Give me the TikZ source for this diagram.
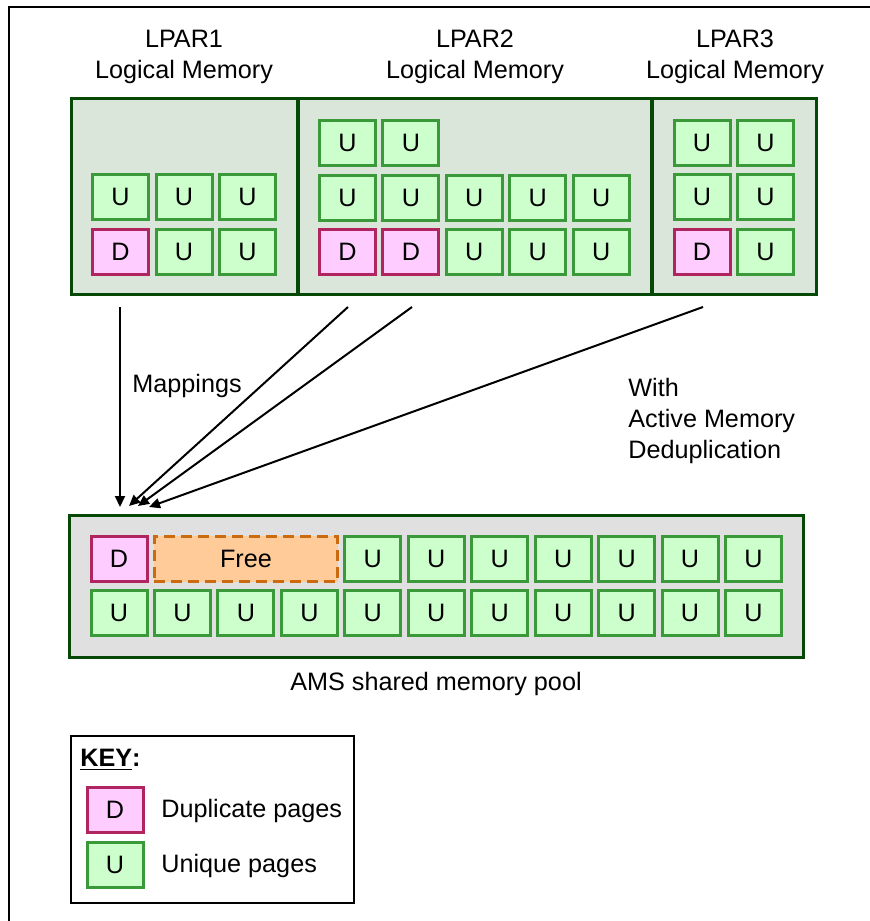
\documentclass[tikz,border=0pt]{standalone}
\usepackage{fontspec}
\setmainfont{Liberation Sans}
\usetikzlibrary{arrows.meta,positioning}
\definecolor{ufill}{HTML}{CCFFCC}
\definecolor{uline}{HTML}{3A9A3A}
\definecolor{dfill}{HTML}{FFCCFF}
\definecolor{dline}{HTML}{B02460}
\definecolor{lparfill}{HTML}{DAE6DA}
\definecolor{boxline}{HTML}{064806}
\definecolor{poolfill}{HTML}{E0E0E0}
\definecolor{freefill}{HTML}{FFCC99}
\definecolor{freeline}{HTML}{CC6A10}
\tikzset{
  txt/.style={font=\fontsize{12.6}{15.5}\selectfont, inner sep=0pt},
  pgU/.style={txt, draw=uline, fill=ufill, line width=1.5pt,
              minimum width=28pt, minimum height=22.5pt},
  pgD/.style={pgU, draw=dline, fill=dfill},
  lpar/.style={draw=boxline, fill=lparfill, line width=1.5pt, inner sep=0pt,
               minimum height=98pt},
  pool/.style={draw=boxline, fill=poolfill, line width=1.5pt, inner sep=0pt},
  arr/.style={-{Triangle[length=5.5pt,width=5pt]}, line width=1pt},
  lbl/.style={txt, align=left}
}

\begin{document}
\begin{tikzpicture}[x=0.5pt, y=-0.5pt]
  \useasboundingbox (0,0) rectangle (870,921);
  \draw[line width=1pt] (9,921) -- (9,7) -- (870,7);

  % logical memory of the three partitions
  \node[lpar, minimum width=113pt]   (lpar1) at (184,196.5) {};
  \node[lpar, minimum width=176.5pt] (lpar2) at (475,196.5) {};
  \node[lpar, minimum width=82pt]    (lpar3) at (734.5,196.5) {};
  \node[txt, align=center] (t1) at (184,57) {LPAR1\\Logical Memory};
  \node[txt, align=center] (t2) at (475,57) {LPAR2\\Logical Memory};
  \node[txt, align=center] (t3) at (735,57) {LPAR3\\Logical Memory};

  \foreach \i in {0,1,2}
    \node[pgU] (a\i) at ({120.5+63.5*\i},197) {U};
  \node[pgD] (b0) at (120.5,252) {D};
  \foreach \i in {1,2}
    \node[pgU] (b\i) at ({120.5+63.5*\i},252) {U};

  \foreach \i in {0,1}
    \node[pgU] (c\i) at ({347.5+63.4*\i},143) {U};
  \foreach \i in {0,...,4}
    \node[pgU] (d\i) at ({347.5+63.4*\i},197.5) {U};
  \foreach \i in {0,1}
    \node[pgD] (e\i) at ({347.5+63.4*\i},252) {D};
  \foreach \i in {2,3,4}
    \node[pgU] (e\i) at ({347.5+63.4*\i},252) {U};

  \foreach \i in {0,1} {
    \node[pgU] (f\i) at ({702+63.5*\i},143) {U};
    \node[pgU] (g\i) at ({702+63.5*\i},197) {U};
  }
  \node[pgD] (h0) at (702,252) {D};
  \node[pgU] (h1) at (765.5,252) {U};

  % shared pool
  \node[pool, minimum width=367pt, minimum height=71pt] (ams) at (436,586) {};
  \node[pgD] (p0) at (119,559) {D};
  \node[txt, draw=freeline, fill=freefill, line width=1.4pt,
        dash pattern=on 5.5pt off 3pt, minimum width=91.6pt,
        minimum height=22.6pt] (free) at (246,559) {Free};
  \foreach \i in {4,...,10}
    \node[pgU] (p\i) at ({119+63.45*\i},559) {U};
  \foreach \i in {0,...,10}
    \node[pgU] (q\i) at ({119+63.45*\i},613) {U};
  \node[txt] (amslbl) at (436,684) {AMS shared memory pool};

  % mappings
  \coordinate (m1) at (120,307);
  \coordinate (m2) at (348,307);
  \coordinate (m3) at (412,307);
  \coordinate (m4) at (703,307);
  \coordinate (n1) at (120,507);
  \coordinate (n2) at (129,506);
  \coordinate (n3) at (138,506);
  \coordinate (n4) at (149,507);
  \draw[arr] (m1) -- (n1);
  \draw[arr] (m2) -- (n2);
  \draw[arr] (m3) -- (n3);
  \draw[arr] (m4) -- (n4);
  \node[lbl, anchor=west] (map) at (132,386) {Mappings};
  \node[lbl, anchor=west] (amd) at (628,421)
    {With\\Active Memory\\Deduplication};

  % key
  \node[draw, line width=1pt, fill=white, minimum width=141.5pt,
        minimum height=83.5pt] (key) at (212.5,819.5) {};
  \node[txt, anchor=west] (keyt) at (80,760)
    {\textbf{\underline{KEY}:}};
  \node[pgD] (kd) at (115,810) {D};
  \node[pgU] (ku) at (115,865) {U};
  \node[txt, anchor=west] (kdt) at (161,811) {Duplicate pages};
  \node[txt, anchor=west] (kut) at (161,866) {Unique pages};
\end{tikzpicture}
\end{document}
